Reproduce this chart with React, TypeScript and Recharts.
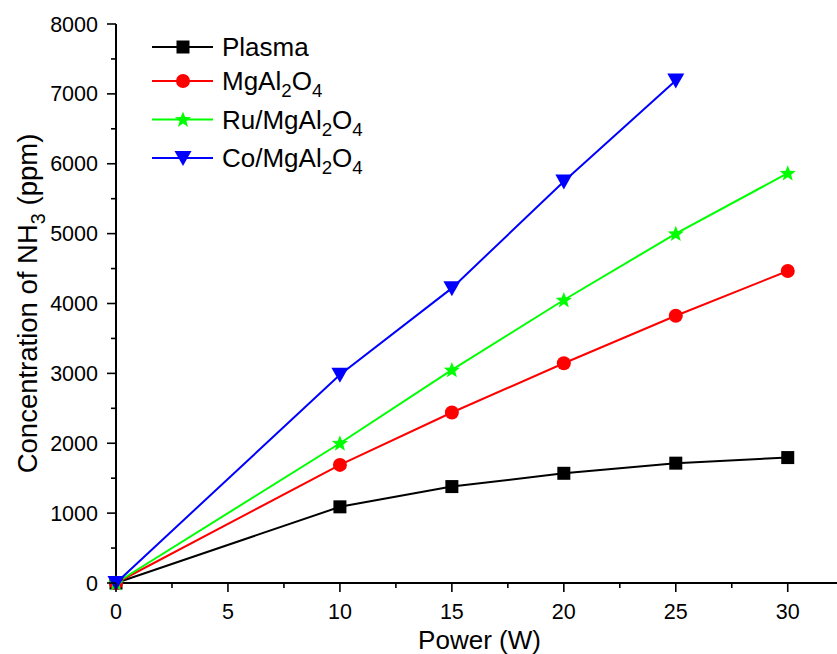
import React from 'react';
import { LineChart, Line, XAxis, YAxis, Legend } from 'recharts';

const powers = [0, 10, 15, 20, 25, 30];
const plasma = [0, 1090, 1380, 1570, 1715, 1795];
const mgal = [0, 1690, 2440, 3145, 3825, 4465];
const ruMgal = [0, 2000, 3050, 4050, 5000, 5865];
const coMgal: (number | null)[] = [0, 2980, 4220, 5745, 7190, null];

const seriesNames = ['Plasma', 'MgAl2O4', 'Ru/MgAl2O4', 'Co/MgAl2O4'];
const seriesKeys = ['plasma', 'mgal', 'ru', 'co'];
const seriesColors = ['#000000', '#ff0000', '#00ff00', '#0000ff'];
const seriesShapes = ['square', 'circle', 'star', 'triangleDown'];

const xMajorTicks = [0, 5, 10, 15, 20, 25, 30];
const xMinorTicks = [2.5, 7.5, 12.5, 17.5, 22.5, 27.5];
const yMajorTicks = [0, 1000, 2000, 3000, 4000, 5000, 6000, 7000, 8000];
const yMinorTicks = [500, 1500, 2500, 3500, 4500, 5500, 6500, 7500];

const xTitle = 'Power (W)';
const yTitle = 'Concentration of NH3 (ppm)';

const data = powers.map((p, i) => ({
  power: p,
  plasma: plasma[i],
  mgal: mgal[i],
  ru: ruMgal[i],
  co: coMgal[i],
}));

const FONT = '"Liberation Sans", Arial, Helvetica, sans-serif';

function withSubscripts(label: string, fontSize: number) {
  const parts = label.split(/(\d)/).filter((s) => s.length > 0);
  const shift = fontSize * 0.28;
  let lowered = false;
  return parts.map((part, i) => {
    if (/^\d$/.test(part)) {
      lowered = true;
      return (
        <tspan key={i} dy={shift} fontSize={fontSize * 0.72}>
          {part}
        </tspan>
      );
    }
    if (lowered) {
      lowered = false;
      return (
        <tspan key={i} dy={-shift}>
          {part}
        </tspan>
      );
    }
    return <tspan key={i}>{part}</tspan>;
  });
}

function Marker({ shape, color, cx, cy }: { shape: string; color: string; cx: number; cy: number }) {
  if (shape === 'square') {
    return <rect x={cx - 6.5} y={cy - 6.5} width={13} height={13} fill={color} />;
  }
  if (shape === 'circle') {
    return <circle cx={cx} cy={cy} r={7} fill={color} />;
  }
  if (shape === 'star') {
    const pts: string[] = [];
    const R = 8.5;
    const r = 3.6;
    for (let k = 0; k < 10; k++) {
      const ang = -Math.PI / 2 + (k * Math.PI) / 5;
      const rad = k % 2 === 0 ? R : r;
      pts.push(`${cx + rad * Math.cos(ang)},${cy + 0.5 + rad * Math.sin(ang)}`);
    }
    return <polygon points={pts.join(' ')} fill={color} />;
  }
  return (
    <polygon
      points={`${cx - 8.5},${cy - 7} ${cx + 8.5},${cy - 7} ${cx},${cy + 8}`}
      fill={color}
    />
  );
}

const makeDot = (shape: string, color: string) => (p: any) => {
  if (p.cx == null || p.cy == null || p.value == null) return <g key={`e-${p.index}`} />;
  return (
    <g key={`d-${shape}-${p.index}`}>
      <Marker shape={shape} color={color} cx={p.cx} cy={p.cy} />
    </g>
  );
};

const XTick = (props: any) => {
  const { x, y, payload } = props;
  const major = xMajorTicks.includes(payload.value);
  return (
    <g>
      <line x1={x} x2={x} y1={y} y2={y + (major ? 9 : 5)} stroke="#000" strokeWidth={1.6} />
      {major && (
        <text x={x} y={y + 36} textAnchor="middle" fontSize={21.5} fontFamily={FONT} fill="#000">
          {payload.value}
        </text>
      )}
    </g>
  );
};

const YTick = (props: any) => {
  const { x, y, payload } = props;
  const major = yMajorTicks.includes(payload.value);
  return (
    <g>
      <line x1={x - (major ? 9 : 5)} x2={x} y1={y} y2={y} stroke="#000" strokeWidth={1.6} />
      {major && (
        <text x={x - 18} y={y + 7.5} textAnchor="end" fontSize={21.5} fontFamily={FONT} fill="#000">
          {payload.value}
        </text>
      )}
    </g>
  );
};

const renderLegend = () => {
  const rows: React.ReactNode[] = [];
  let yPos = 27;
  seriesNames.forEach((name, i) => {
    const color = seriesColors[i];
    rows.push(
      <g key={name}>
        <line x1={12} x2={73} y1={yPos} y2={yPos} stroke={color} strokeWidth={2} />
        <Marker shape={seriesShapes[i]} color={color} cx={43} cy={yPos} />
        <text x={82} y={yPos + 9} fontSize={26} fontFamily={FONT} fill="#000">
          {withSubscripts(name, 26)}
        </text>
      </g>
    );
    yPos += /\d/.test(name) ? 38.5 : 34;
  });
  return (
    <svg width={300} height={190} style={{ display: 'block' }}>
      {rows}
    </svg>
  );
};

export default function App() {
  const allX = [...xMajorTicks, ...xMinorTicks].sort((a, b) => a - b);
  const allY = [...yMajorTicks, ...yMinorTicks].sort((a, b) => a - b);
  return (
    <div style={{ position: 'absolute', left: 0, top: 0, width: 837, height: 654, background: '#fff' }}>
      <LineChart
        width={837}
        height={654}
        data={data}
        margin={{ top: 24, right: 0, bottom: 0, left: 0 }}
      >
        <XAxis
          dataKey="power"
          type="number"
          domain={[0, 32.2]}
          ticks={allX}
          interval={0}
          height={71}
          tickSize={0}
          tickMargin={0}
          tickLine={false}
          tick={<XTick />}
          axisLine={{ stroke: '#000', strokeWidth: 2 }}
          label={(p: any) => {
            const vb = p.viewBox;
            return (
              <text
                x={vb.x + vb.width / 2 + 3}
                y={vb.y + 66}
                textAnchor="middle"
                fontSize={26}
                fontFamily={FONT}
                fill="#000"
              >
                {xTitle}
              </text>
            );
          }}
        />
        <YAxis
          type="number"
          domain={[0, 8000]}
          ticks={allY}
          interval={0}
          width={116}
          tickSize={0}
          tickMargin={0}
          tickLine={false}
          tick={<YTick />}
          axisLine={{ stroke: '#000', strokeWidth: 2 }}
          label={(p: any) => {
            const vb = p.viewBox;
            const cx = vb.x + 37;
            const cy = vb.y + vb.height / 2;
            return (
              <text
                x={cx}
                y={cy}
                transform={`rotate(-90, ${cx}, ${cy})`}
                textAnchor="middle"
                fontSize={27.5}
                fontFamily={FONT}
                fill="#000"
              >
                {withSubscripts(yTitle, 27.5)}
              </text>
            );
          }}
        />
        <Legend
          layout="vertical"
          align="center"
          verticalAlign="middle"
          content={renderLegend}
          wrapperStyle={{ position: 'absolute', left: 140, top: 20, width: 300, height: 190 }}
        />
        {seriesKeys.map((k, i) => (
          <Line
            key={k}
            dataKey={k}
            name={seriesNames[i]}
            type="linear"
            stroke={seriesColors[i]}
            strokeWidth={2}
            dot={makeDot(seriesShapes[i], seriesColors[i])}
            activeDot={false}
            isAnimationActive={false}
            connectNulls={false}
          />
        ))}
      </LineChart>
    </div>
  );
}
